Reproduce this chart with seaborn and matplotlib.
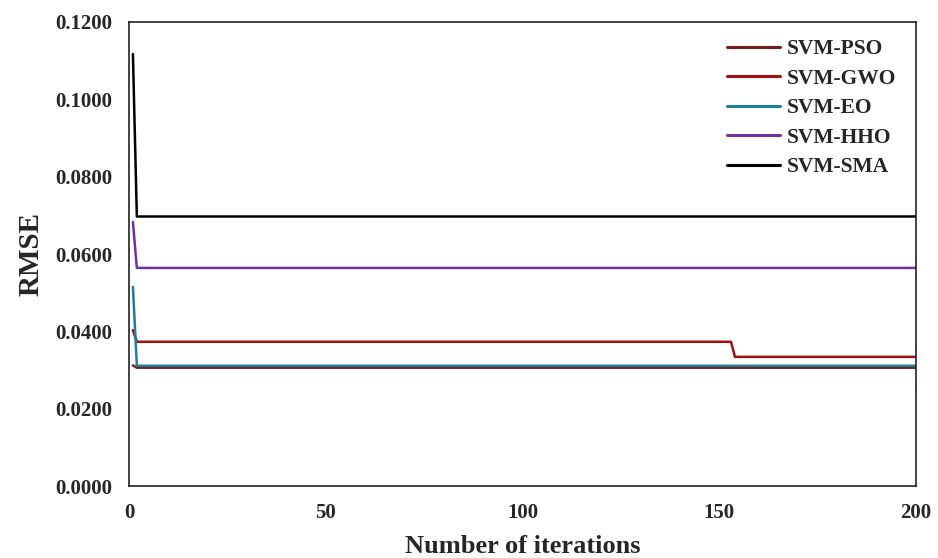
import matplotlib
matplotlib.use("Agg")
import matplotlib.pyplot as plt
import seaborn as sns
import pandas as pd

# Values read at the points where each curve changes (iteration, RMSE)
pso_iter = [1, 2, 200]
pso_rmse = [0.0312, 0.0306, 0.0306]
gwo_iter = [1, 2, 153, 154, 200]
gwo_rmse = [0.0403, 0.0373, 0.0373, 0.0334, 0.0334]
eo_iter = [1, 2, 200]
eo_rmse = [0.0515, 0.0311, 0.0311]
hho_iter = [1, 2, 200]
hho_rmse = [0.0683, 0.0564, 0.0564]
sma_iter = [1, 2, 200]
sma_rmse = [0.1117, 0.0697, 0.0697]

series_names = ["SVM-PSO", "SVM-GWO", "SVM-EO", "SVM-HHO", "SVM-SMA"]
x_ticks = [0, 50, 100, 150, 200]
y_ticks = [0.0, 0.02, 0.04, 0.06, 0.08, 0.10, 0.12]

frames = []
for name, xs, ys in zip(series_names,
                        [pso_iter, gwo_iter, eo_iter, hho_iter, sma_iter],
                        [pso_rmse, gwo_rmse, eo_rmse, hho_rmse, sma_rmse]):
    frames.append(pd.DataFrame({"iter": xs, "rmse": ys, "model": name}))
df = pd.concat(frames, ignore_index=True)

palette = {"SVM-PSO": "#7a1c1c", "SVM-GWO": "#a30f0f", "SVM-EO": "#1f7f99",
           "SVM-HHO": "#7030a0", "SVM-SMA": "#000000"}

sns.set_style("white")
plt.rcParams["font.family"] = ["Liberation Serif", "DejaVu Serif"]
plt.rcParams["font.weight"] = "bold"

fig = plt.figure(figsize=(9.38, 5.58), dpi=100)
ax = fig.add_axes([0.1375, 0.129, 0.8390, 0.8316])

sns.lineplot(data=df, x="iter", y="rmse", hue="model", hue_order=series_names,
             palette=palette, linewidth=1.8, ax=ax, sort=False, estimator=None)

ax.set_xlim(0, 200)
ax.set_ylim(0, 0.12)
ax.set_xticks(x_ticks)
ax.set_yticks(y_ticks)
ax.set_yticklabels([f"{v:.4f}" for v in y_ticks])
ax.tick_params(axis="x", labelsize=15, length=0, pad=12)
ax.tick_params(axis="y", labelsize=15, length=0, pad=12)
for lab in ax.get_xticklabels() + ax.get_yticklabels():
    lab.set_fontweight("bold")

ax.set_xlabel("Number of iterations", fontsize=19, fontweight="bold", labelpad=9)
ax.set_ylabel("RMSE", fontsize=21, fontweight="bold", labelpad=8)

for sp in ax.spines.values():
    sp.set_visible(True)
    sp.set_color("#222222")
    sp.set_linewidth(1.2)

leg = ax.legend(loc="upper right", frameon=False, fontsize=15.5,
                handlelength=2.45, handletextpad=0.3, labelspacing=0.44,
                bbox_to_anchor=(0.999, 1.005))
for t in leg.get_texts():
    t.set_fontweight("bold")
for h in leg.get_lines():
    h.set_linewidth(2.2)

fig.savefig("out.png", dpi=100)
